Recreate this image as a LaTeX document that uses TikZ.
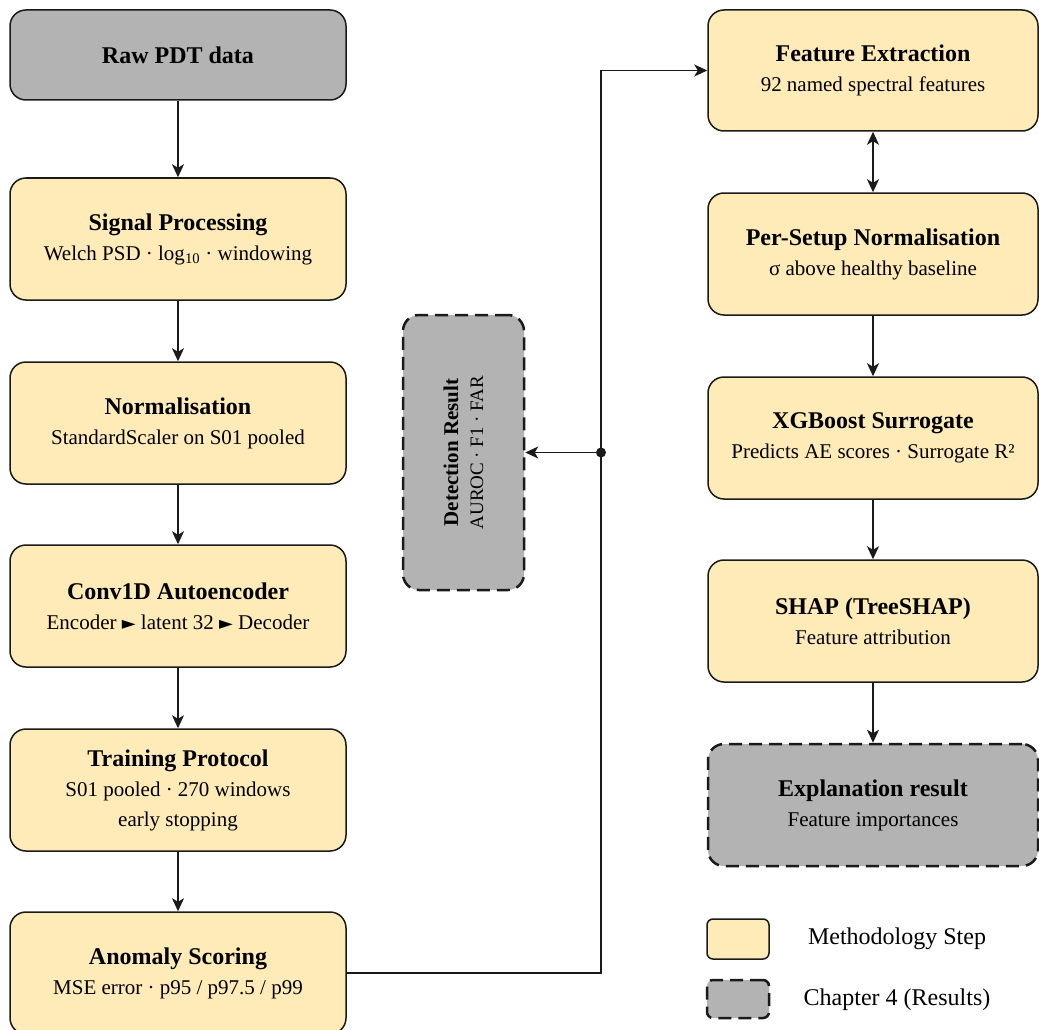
\documentclass[tikz,border=0pt]{standalone}
\usepackage{fontspec}
\setmainfont{Liberation Serif}
\newfontfamily\symfont{DejaVu Sans}
\usetikzlibrary{arrows.meta}
\definecolor{stepfill}{HTML}{FFEBB8}
\definecolor{resfill}{HTML}{B3B3B3}
\definecolor{ink}{HTML}{1A1A1A}
\newcommand{\tri}{{\symfont\fontsize{18}{18}\selectfont ►}}
\tikzset{
  basebox/.style={line width=1.5pt, draw=ink, rounded corners=16pt, align=center,
    inner sep=0pt, font=\fontsize{21}{30}\selectfont},
  stepbox/.style={basebox, fill=stepfill},
  resbox/.style={basebox, fill=resfill, dashed, line width=2.5pt, dash pattern=on 13pt off 7pt},
  leftcol/.style={minimum width=336pt, minimum height=122pt},
  rightcol/.style={minimum width=330pt, minimum height=122pt},
  tip/.tip={Stealth[length=13pt,width=12pt,inset=3.5pt]},
  arr/.style={draw=ink, line width=1.4pt, -tip},
  biarr/.style={draw=ink, line width=1.4pt, tip-tip},
  legtext/.style={font=\fontsize{24}{28}\selectfont, inner sep=0pt}
}
\newcommand{\ttl}[1]{{\bfseries\fontsize{24}{30}\selectfont #1}}
\begin{document}
\begin{tikzpicture}[x=1pt,y=-1pt]
\useasboundingbox (0,0) rectangle (1039,1030);

% left column: detection pipeline
\node[basebox, fill=resfill, minimum width=336pt, minimum height=90pt] (raw) at (178,55) {\ttl{Raw PDT data}};
\node[stepbox, leftcol] (sig) at (178,239) {\ttl{Signal Processing}\\Welch PSD · log\textsubscript{10} · windowing};
\node[stepbox, leftcol] (norm) at (178,423) {\ttl{Normalisation}\\StandardScaler on S01 pooled};
\node[stepbox, leftcol] (conv) at (178,606) {\ttl{Conv1D Autoencoder}\\Encoder \tri{} latent 32 \tri{} Decoder};
\node[stepbox, leftcol] (train) at (178,790) {\ttl{Training Protocol}\\S01 pooled · 270 windows\\early stopping};
\node[stepbox, leftcol] (anom) at (178,973) {\ttl{Anomaly Scoring}\\MSE error · p95 / p97.5 / p99};

% detection result (rotated label)
\node[resbox, minimum width=121pt, minimum height=275pt] (det) at (463.5,452.5) {};
\node[rotate=90, align=center, inner sep=0pt, font=\fontsize{19}{25}\selectfont] (detlabel) at (det.center)
  {{\bfseries\fontsize{21}{25}\selectfont Detection Result}\\AUROC · F1 · FAR};

% right column: explanation pipeline
\node[stepbox, rightcol, minimum height=121pt] (feat) at (873,70.5) {\ttl{Feature Extraction}\\92 named spectral features};
\node[stepbox, rightcol] (pers) at (873,254) {\ttl{Per-Setup Normalisation}\\σ above healthy baseline};
\node[stepbox, rightcol] (xgb) at (873,438) {\ttl{XGBoost Surrogate}\\Predicts AE scores · Surrogate R²};
\node[stepbox, rightcol] (shap) at (873,621) {\ttl{SHAP (TreeSHAP)}\\Feature attribution};
\node[resbox, rightcol] (expl) at (873,805) {\ttl{Explanation result}\\Feature importances};

% legend
\node[basebox, fill=stepfill, rounded corners=6pt, minimum width=62pt, minimum height=40pt] (legstep) at (738,939) {};
\node[resbox, rounded corners=6pt, minimum width=62pt, minimum height=38pt] (legres) at (738,999) {};
\node[legtext] (legsteptext) at (897,939) {Methodology Step};
\node[legtext] (legrestext) at (897,1000) {Chapter 4 (Results)};

% connectors
\draw[arr] (raw) -- (sig);
\draw[arr] (sig) -- (norm);
\draw[arr] (norm) -- (conv);
\draw[arr] (conv) -- (train);
\draw[arr] (train) -- (anom);

\coordinate (bendtop) at (601,70.5);
\coordinate (junc) at (601,452.5);
\draw[arr] (anom.east) -| (bendtop) -- (feat.west);
\fill[ink] (junc) circle (5pt);
\draw[arr] (junc) -- (det.east);

\draw[biarr] (feat) -- (pers);
\draw[arr] (pers) -- (xgb);
\draw[arr] (xgb) -- (shap);
\draw[arr] (shap) -- (expl);
\end{tikzpicture}
\end{document}
